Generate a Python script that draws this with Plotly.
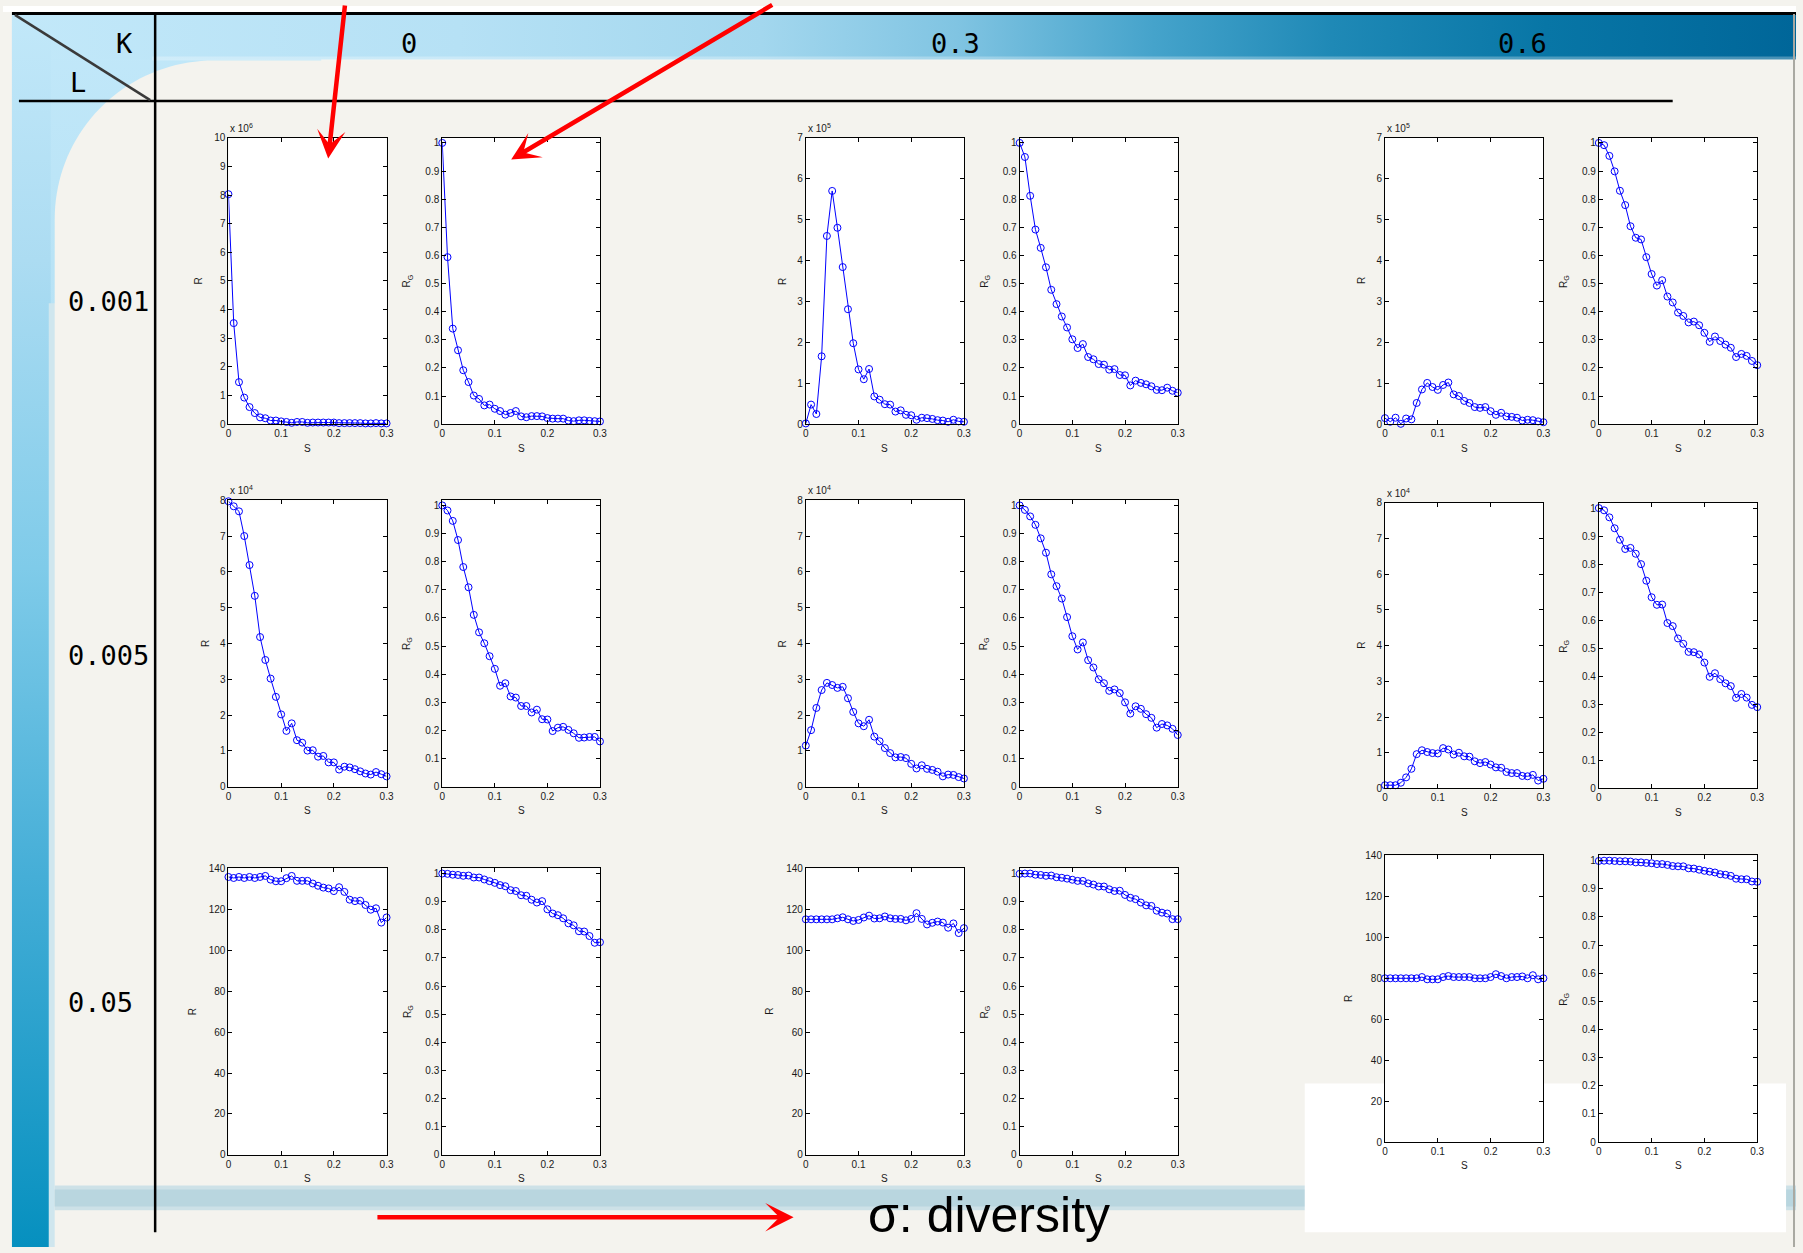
import plotly.graph_objects as go
import numpy as np

W, H = 1803, 1253

# ---------------- data ----------------
S = [0.00, 0.01, 0.02, 0.03, 0.04, 0.05, 0.06, 0.07, 0.08, 0.09, 0.10,
     0.11, 0.12, 0.13, 0.14, 0.15, 0.16, 0.17, 0.18, 0.19, 0.20,
     0.21, 0.22, 0.23, 0.24, 0.25, 0.26, 0.27, 0.28, 0.29, 0.30]

K_LABELS = ["0", "0.3", "0.6"]
L_LABELS = ["0.001", "0.005", "0.05"]

# L = 0.001
R_K00_L001 = [8.03, 3.53, 1.47, 0.93, 0.60, 0.39, 0.24, 0.21, 0.13, 0.13, 0.10, 0.08, 0.05, 0.08, 0.08, 0.05,
              0.06, 0.06, 0.06, 0.06, 0.06, 0.04, 0.04, 0.04, 0.04, 0.04, 0.03, 0.03, 0.04, 0.03, 0.03]  # x 10^6
RG_K00_L001 = [1.0, 0.594, 0.34, 0.263, 0.192, 0.15, 0.102, 0.09, 0.067, 0.07, 0.055, 0.047, 0.034, 0.04, 0.047,
               0.028, 0.025, 0.029, 0.029, 0.028, 0.022, 0.02, 0.02, 0.02, 0.013, 0.011, 0.014, 0.014, 0.012, 0.011, 0.01]
R_K03_L001 = [0.02, 0.48, 0.25, 1.66, 4.60, 5.70, 4.80, 3.84, 2.81, 1.98, 1.34, 1.10, 1.35, 0.68, 0.60, 0.49,
              0.48, 0.31, 0.34, 0.23, 0.22, 0.11, 0.16, 0.15, 0.13, 0.10, 0.09, 0.06, 0.11, 0.07, 0.06]  # x 10^5
RG_K03_L001 = [1.0, 0.95, 0.812, 0.692, 0.627, 0.558, 0.478, 0.427, 0.383, 0.344, 0.302, 0.271, 0.285, 0.239, 0.231,
               0.214, 0.212, 0.194, 0.196, 0.175, 0.174, 0.138, 0.155, 0.147, 0.142, 0.135, 0.122, 0.121, 0.130, 0.119, 0.112]
R_K06_L001 = [0.15, 0.06, 0.16, 0.01, 0.14, 0.12, 0.52, 0.85, 1.01, 0.91, 0.84, 0.96, 1.02, 0.73, 0.69, 0.57,
              0.52, 0.42, 0.40, 0.42, 0.32, 0.23, 0.28, 0.19, 0.18, 0.16, 0.09, 0.11, 0.10, 0.07, 0.05]  # x 10^5
RG_K06_L001 = [1.0, 0.992, 0.954, 0.899, 0.83, 0.779, 0.704, 0.663, 0.657, 0.594, 0.534, 0.493, 0.512, 0.454, 0.433,
               0.397, 0.385, 0.362, 0.365, 0.352, 0.325, 0.293, 0.312, 0.296, 0.283, 0.272, 0.239, 0.25, 0.243, 0.225, 0.21]

# L = 0.005
R_K00_L005 = [7.97, 7.83, 7.69, 7.00, 6.19, 5.33, 4.18, 3.54, 3.02, 2.51, 2.02, 1.56, 1.77, 1.30, 1.23, 1.01,
              1.02, 0.84, 0.86, 0.68, 0.68, 0.48, 0.56, 0.54, 0.49, 0.43, 0.37, 0.34, 0.41, 0.35, 0.29]  # x 10^4
RG_K00_L005 = [1.0, 0.982, 0.945, 0.877, 0.781, 0.709, 0.611, 0.549, 0.51, 0.464, 0.419, 0.359, 0.368, 0.321, 0.317,
               0.287, 0.287, 0.264, 0.274, 0.24, 0.239, 0.198, 0.21, 0.213, 0.202, 0.19, 0.174, 0.175, 0.177, 0.177, 0.161]
R_K03_L005 = [1.15, 1.58, 2.20, 2.70, 2.90, 2.84, 2.76, 2.79, 2.47, 2.09, 1.77, 1.69, 1.87, 1.40, 1.27, 1.08,
              0.94, 0.82, 0.83, 0.80, 0.64, 0.51, 0.60, 0.50, 0.47, 0.42, 0.29, 0.34, 0.33, 0.27, 0.23]  # x 10^4
RG_K03_L005 = [1.0, 0.984, 0.961, 0.931, 0.883, 0.832, 0.755, 0.713, 0.669, 0.603, 0.535, 0.488, 0.513, 0.45, 0.424,
               0.382, 0.368, 0.341, 0.346, 0.333, 0.30, 0.26, 0.286, 0.277, 0.258, 0.245, 0.21, 0.223, 0.218, 0.206, 0.184]
R_K06_L005 = [0.09, 0.09, 0.09, 0.16, 0.31, 0.55, 0.96, 1.07, 1.02, 0.99, 0.98, 1.13, 1.09, 0.95, 1.00, 0.90,
              0.89, 0.76, 0.71, 0.74, 0.67, 0.59, 0.58, 0.46, 0.43, 0.43, 0.35, 0.34, 0.38, 0.22, 0.27]  # x 10^4
RG_K06_L005 = [1.0, 0.992, 0.967, 0.928, 0.887, 0.854, 0.858, 0.837, 0.80, 0.741, 0.682, 0.655, 0.656, 0.59, 0.579,
               0.535, 0.516, 0.487, 0.486, 0.478, 0.449, 0.398, 0.411, 0.39, 0.375, 0.365, 0.323, 0.337, 0.324, 0.298, 0.29]

# L = 0.05
R_K00_L05 = [135.8, 135.3, 135.8, 135.3, 135.8, 135.3, 135.8, 136.3, 134.5, 133.7, 133.7, 135.2, 136.3, 133.9, 133.9,
             133.9, 132.6, 131.5, 130.6, 130.2, 128.9, 130.8, 128.5, 124.7, 124.0, 124.2, 122.1, 119.8, 120.5, 113.5, 116.0]
RG_K00_L05 = [1.0, 0.999, 0.996, 0.995, 0.992, 0.993, 0.986, 0.986, 0.979, 0.973, 0.967, 0.959, 0.955, 0.941, 0.938,
              0.923, 0.921, 0.907, 0.897, 0.902, 0.873, 0.858, 0.852, 0.841, 0.823, 0.816, 0.795, 0.794, 0.778, 0.754, 0.756]
R_K03_L05 = [115.1, 115.1, 115.1, 115.1, 115.1, 115.1, 115.6, 116.1, 115.1, 114.3, 114.8, 116.0, 116.9, 115.5, 115.6,
             116.5, 115.6, 115.3, 115.3, 114.6, 115.3, 118.1, 115.3, 112.6, 113.4, 114.0, 113.5, 111.0, 113.1, 108.4, 110.8]
RG_K03_L05 = [0.999, 1.0, 1.0, 0.996, 0.995, 0.992, 0.993, 0.987, 0.985, 0.982, 0.978, 0.974, 0.974, 0.965, 0.961,
              0.954, 0.954, 0.944, 0.938, 0.939, 0.924, 0.914, 0.909, 0.897, 0.887, 0.885, 0.868, 0.861, 0.858, 0.838, 0.838]
R_K06_L05 = [80.0, 80.0, 80.0, 80.0, 80.0, 80.0, 80.0, 80.6, 79.5, 79.5, 79.5, 80.6, 81.1, 80.6, 80.6,
             80.6, 80.6, 80.0, 80.0, 80.0, 80.6, 82.0, 81.1, 80.0, 80.6, 80.6, 80.9, 80.0, 81.5, 79.5, 80.0]
RG_K06_L05 = [0.999, 1.0, 1.0, 0.999, 0.998, 0.998, 0.997, 0.994, 0.994, 0.992, 0.991, 0.988, 0.988, 0.985, 0.981,
              0.98, 0.98, 0.973, 0.972, 0.968, 0.964, 0.961, 0.958, 0.952, 0.95, 0.946, 0.936, 0.934, 0.934, 0.926, 0.925]

# tick labels
X_TICKS = [0, 0.1, 0.2, 0.3]
X_TICKTEXT = ["0", "0.1", "0.2", "0.3"]
Y_TICKS_10 = [0, 1, 2, 3, 4, 5, 6, 7, 8, 9, 10]
Y_TICKS_8 = [0, 1, 2, 3, 4, 5, 6, 7, 8]
Y_TICKS_7 = [0, 1, 2, 3, 4, 5, 6, 7]
Y_TICKS_140 = [0, 20, 40, 60, 80, 100, 120, 140]
Y_TICKS_RG = [0, 0.1, 0.2, 0.3, 0.4, 0.5, 0.6, 0.7, 0.8, 0.9, 1.0]
Y_TICKTEXT_RG = ["0", "0.1", "0.2", "0.3", "0.4", "0.5", "0.6", "0.7", "0.8", "0.9", "1"]

# panels: (row, col, values, kind, exponent, yticks)
PANELS = [
    (0, 0, R_K00_L001, "R", 6, Y_TICKS_10), (0, 1, RG_K00_L001, "RG", None, Y_TICKS_RG),
    (0, 2, R_K03_L001, "R", 5, Y_TICKS_7), (0, 3, RG_K03_L001, "RG", None, Y_TICKS_RG),
    (0, 4, R_K06_L001, "R", 5, Y_TICKS_7), (0, 5, RG_K06_L001, "RG", None, Y_TICKS_RG),
    (1, 0, R_K00_L005, "R", 4, Y_TICKS_8), (1, 1, RG_K00_L005, "RG", None, Y_TICKS_RG),
    (1, 2, R_K03_L005, "R", 4, Y_TICKS_8), (1, 3, RG_K03_L005, "RG", None, Y_TICKS_RG),
    (1, 4, R_K06_L005, "R", 4, Y_TICKS_8), (1, 5, RG_K06_L005, "RG", None, Y_TICKS_RG),
    (2, 0, R_K00_L05, "R", None, Y_TICKS_140), (2, 1, RG_K00_L05, "RG", None, Y_TICKS_RG),
    (2, 2, R_K03_L05, "R", None, Y_TICKS_140), (2, 3, RG_K03_L05, "RG", None, Y_TICKS_RG),
    (2, 4, R_K06_L05, "R", None, Y_TICKS_140), (2, 5, RG_K06_L05, "RG", None, Y_TICKS_RG),
]

# ---------------- layout geometry (pixels) ----------------
COL_X = [(226.7, 385.7), (441.7, 600.3), (807.3, 966.3), (1022.3, 1181.3), (1389.7, 1549.0), (1604.7, 1764.0)]
ROW_Y = {
    (0, "a"): (133.0, 422.3), (0, "b"): (133.0, 422.3),
    (1, "a"): (499.0, 788.3), (1, "b"): (501.7, 790.0),
    (2, "a"): (870.7, 1160.0), (2, "b"): (857.7, 1147.0),
}

BLUE = "#0000ff"
TXT = "#1a1a1a"
FONT = "Liberation Sans, Arial, sans-serif"
MONO = "DejaVu Sans Mono, monospace"

fig = go.Figure()


def poly(xs, ys, color=None, grad=None):
    kw = dict(x=xs, y=ys, mode="none", fill="toself", hoverinfo="skip",
              showlegend=False, xaxis="x", yaxis="y")
    if grad is not None:
        kw["fillgradient"] = grad
    else:
        kw["fillcolor"] = color
    fig.add_trace(go.Scatter(**kw))


def rect(x0, y0, x1, y1, color=None, grad=None):
    poly([x0, x1, x1, x0, x0], [y0, y0, y1, y1, y0], color, grad)


# ---------------- slide background ----------------
# (vertical gradients: position 0 = bottom of the rectangle on screen)
rect(0, 0, W, H, "#f4f3ee")
# left light-blue region
rect(9, 7, 320, 420, grad=dict(type="vertical", colorscale=[[0, "#b3e0f4"], [1, "#c2e8f9"]]))
# top band
rect(9, 7, W, 54, grad=dict(type="horizontal", colorscale=[
    [0, "#c2e8f9"], [0.25, "#b6e1f5"], [0.42, "#a3d7ee"], [0.53, "#80c4e2"],
    [0.64, "#45a3cb"], [0.74, "#1f89b6"], [0.86, "#0876a6"], [1, "#006699"]]))
# lighter line under band
rect(150, 51, W, 55, "rgba(255,255,255,0.28)")
# left vertical bar
rect(9, 7, 48, H, grad=dict(type="vertical", colorscale=[
    [0, "#0690bf"], [0.3, "#45aed7"], [0.55, "#7fcbe9"], [0.8, "#acdcf2"], [1, "#c2e8f9"]]))
rect(46, 300, 53, H, "#cfe6ee")
# beige area with rounded corner
R_C = 160
x_l, y_t = 52, 55
th = np.linspace(np.pi, 1.5 * np.pi, 40)
cx, cy = x_l + R_C, y_t + R_C
xs = list(cx + R_C * np.cos(th)) + [W, W, x_l, x_l]
ys = list(cy + R_C * np.sin(th)) + [y_t, H, H, cy]
poly(xs, ys, "#f4f3ee")
# bottom strip
rect(52, 1191, W, 1216, "#cde1e7")
rect(52, 1195, W, 1212, "#b9d6df")
# white box bottom right
rect(1309, 1088, 1793, 1238, "#ffffff")
# white top edge
rect(0, 0, W, 6, "#ffffff")

# ---------------- panels ----------------
annotations = []
layout_axes = {}
for i, (row, col, vals, kind, expo, yt) in enumerate(PANELS):
    n = i + 2
    L, R = COL_X[col]
    T, B = ROW_Y[(row, "b" if col >= 4 else "a")]
    xa = f"xaxis{n}"
    ya = f"yaxis{n}"
    axis_common = dict(showline=True, linecolor="black", linewidth=1, mirror="ticks",
                       ticks="inside", ticklen=4, tickcolor="black", showgrid=False,
                       zeroline=False, tickfont=dict(family=FONT, size=10, color=TXT),
                       fixedrange=True)
    layout_axes[xa] = dict(domain=[L / W, R / W], anchor=f"y{n}", range=[0, 0.3],
                           tickmode="array", tickvals=X_TICKS, ticktext=X_TICKTEXT, **axis_common)
    if kind == "RG":
        yr = [0, 1.0185]
        ytext = Y_TICKTEXT_RG
    else:
        yr = [0, yt[-1]]
        ytext = [str(v) for v in yt]
    layout_axes[ya] = dict(domain=[1 - B / H, 1 - T / H], anchor=f"x{n}", range=yr,
                           tickmode="array", tickvals=yt, ticktext=ytext, **axis_common)
    fig.add_trace(go.Scatter(x=S, y=vals, mode="lines+markers", xaxis=f"x{n}", yaxis=f"y{n}",
                             line=dict(color=BLUE, width=1),
                             marker=dict(symbol="circle-open", size=7, color=BLUE, line=dict(width=1, color=BLUE)),
                             cliponaxis=False, showlegend=False, hoverinfo="skip"))
    # axis labels
    annotations.append(dict(x=(L + R) / 2, y=B + 24, xref="x", yref="y", text="S", showarrow=False,
                            font=dict(family=FONT, size=10, color=TXT)))
    if kind == "RG":
        off, txt = 35, "R<sub>G</sub>"
    else:
        maxlen = len(str(yt[-1]))
        off = {1: 23, 2: 30, 3: 36}[maxlen]
        txt = "R"
    annotations.append(dict(x=L - off, y=(T + B) / 2, xref="x", yref="y", text=txt, showarrow=False,
                            textangle=-90, font=dict(family=FONT, size=10, color=TXT)))
    if expo is not None:
        annotations.append(dict(x=L, y=T - 10, xref="x", yref="y", xanchor="left",
                                text=f"x 10<sup>{expo}</sup>", showarrow=False,
                                font=dict(family=FONT, size=10, color=TXT)))

# ---------------- header texts ----------------
hdr_font = dict(family=MONO, size=27, color="black")
annotations.append(dict(x=122, y=38, xref="x", yref="y", text="K", showarrow=False, font=hdr_font))
annotations.append(dict(x=75, y=77, xref="x", yref="y", text="L", showarrow=False, font=hdr_font))
for xk, lab in zip([408, 958, 1528], K_LABELS):
    annotations.append(dict(x=xk, y=38, xref="x", yref="y", text=lab, showarrow=False, font=hdr_font))
for yl, lab in zip([298, 656, 1006], L_LABELS):
    annotations.append(dict(x=63, y=yl, xref="x", yref="y", text=lab, xanchor="left",
                            showarrow=False, font=hdr_font))

annotations.append(dict(x=991, y=1221, xref="x", yref="y", text="σ: diversity", showarrow=False,
                        font=dict(family=FONT, size=50, color="black")))

# red arrows
for (tx, ty, sx, sy) in [(327, 154, 344, -2), (511, 155, 775, -2), (795, 1223, 375, 1223)]:
    annotations.append(dict(x=tx, y=ty, ax=sx, ay=sy, xref="x", yref="y", axref="x", ayref="y",
                            text="", showarrow=True, arrowhead=3, arrowsize=1.05, arrowwidth=4.5,
                            arrowcolor="#ff0000", standoff=0, startstandoff=0))

# table lines
shapes = [
    dict(type="line", x0=9, y0=7.5, x1=W, y1=7.5, xref="x", yref="y", line=dict(color="black", width=3), layer="above"),
    dict(type="line", x0=16, y0=96, x1=1679, y1=96, xref="x", yref="y", line=dict(color="black", width=2.5), layer="above"),
    dict(type="line", x0=153, y0=8, x1=153, y1=1238, xref="x", yref="y", line=dict(color="black", width=2.5), layer="above"),
    dict(type="line", x0=12, y0=9, x1=148, y1=95, xref="x", yref="y", line=dict(color="#3a3a3a", width=2.5), layer="above"),
    dict(type="line", x0=1801, y0=8, x1=1801, y1=H, xref="x", yref="y", line=dict(color="#a9a9a2", width=2), layer="above"),
]

fig.update_layout(
    width=W, height=H, margin=dict(l=0, r=0, t=0, b=0, pad=0),
    paper_bgcolor="#f4f3ee", plot_bgcolor="#ffffff", showlegend=False,
    xaxis=dict(domain=[0, 1], range=[0, W], visible=False, fixedrange=True),
    yaxis=dict(domain=[0, 1], range=[H, 0], visible=False, fixedrange=True),
    annotations=annotations, shapes=shapes,
    **layout_axes,
)

fig.write_html("out.html", config={"displayModeBar": False})
